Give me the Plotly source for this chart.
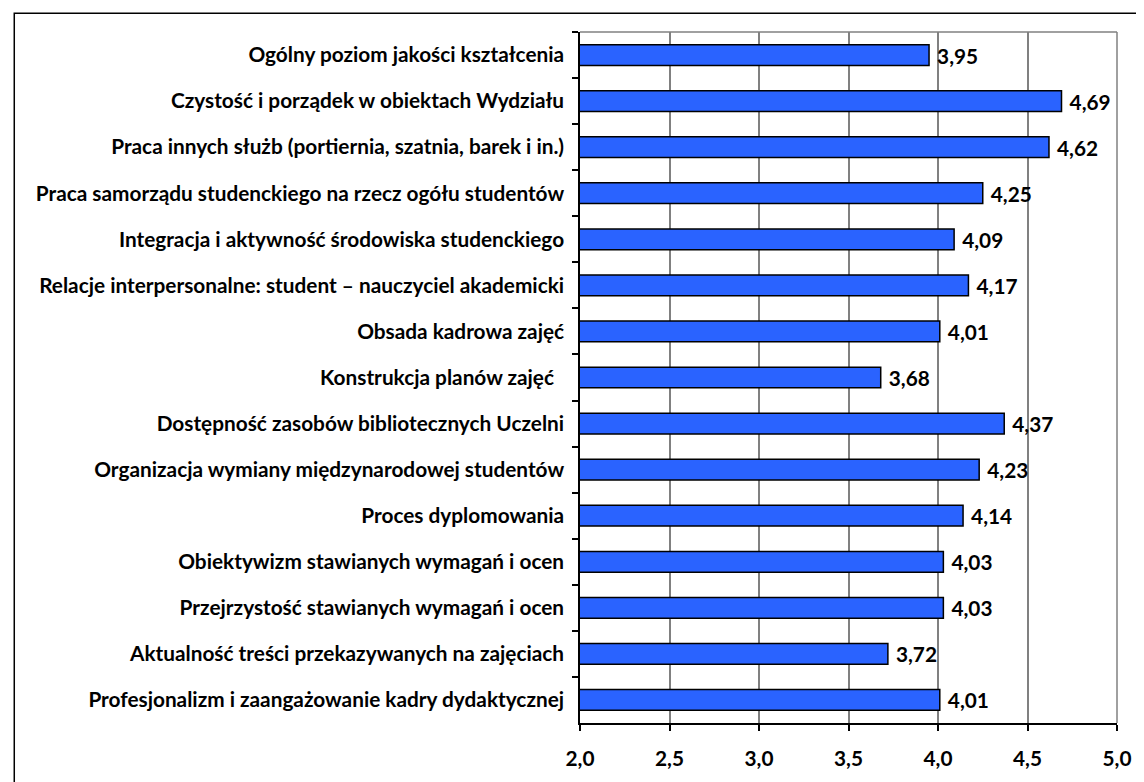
import plotly.graph_objects as go

categories = [
    "Ogólny poziom jakości kształcenia",
    "Czystość i porządek w obiektach Wydziału",
    "Praca innych służb (portiernia, szatnia, barek i in.)",
    "Praca samorządu studenckiego na rzecz ogółu studentów",
    "Integracja i aktywność środowiska studenckiego",
    "Relacje interpersonalne: student – nauczyciel akademicki",
    "Obsada kadrowa zajęć",
    "Konstrukcja planów zajęć  ",
    "Dostępność zasobów bibliotecznych Uczelni",
    "Organizacja wymiany międzynarodowej studentów",
    "Proces dyplomowania",
    "Obiektywizm stawianych wymagań i ocen",
    "Przejrzystość stawianych wymagań i ocen",
    "Aktualność treści przekazywanych na zajęciach",
    "Profesjonalizm i zaangażowanie kadry dydaktycznej",
]
values = [3.95, 4.69, 4.62, 4.25, 4.09, 4.17, 4.01, 3.68, 4.37, 4.23, 4.14, 4.03, 4.03, 3.72, 4.01]
x_ticks = [2.0, 2.5, 3.0, 3.5, 4.0, 4.5, 5.0]

FONT = "Lato"
FS = 20.8

# figure is placed at (8,8) by the page's body margin
W, H = 1136, 774
L, R, T, B = 572, 22, 24, 53
PW = W - L - R
PH = H - T - B

fig = go.Figure(go.Bar(
    y=categories,
    x=values,
    orientation="h",
    marker=dict(color="#2A63FF", line=dict(color="#000000", width=1.5)),
    texttemplate=" %{x:.2f}",
    textposition="outside",
    constraintext="none",
    textfont=dict(family=FONT, size=FS, color="#000000", weight="bold"),
    cliponaxis=False,
    hoverinfo="x+y",
))

fig.update_layout(
    width=W, height=H,
    margin=dict(l=L, r=R, t=T, b=B),
    paper_bgcolor="white",
    plot_bgcolor="white",
    separators=", ",
    showlegend=False,
    bargap=0.55,
    font=dict(family=FONT, size=FS, color="#000000", weight="bold"),
    xaxis=dict(
        range=[2.0, 5.0],
        tickvals=x_ticks,
        tickformat=".1f",
        showgrid=True, gridcolor="#808080", gridwidth=1.5,
        showline=True, linecolor="#000000", linewidth=1.5,
        ticks="outside", ticklen=6, tickcolor="#000000", tickwidth=1.5,
        tickfont=dict(family=FONT, size=FS, color="#000000", weight="bold"),
        zeroline=False,
        ticklabelstandoff=10,
    ),
    yaxis=dict(
        autorange="reversed",
        type="category",
        showline=True, linecolor="#000000", linewidth=1.5,
        ticks="outside", ticklen=6, tickcolor="#000000", tickwidth=1.5,
        tickson="boundaries",
        showgrid=False,
        tickfont=dict(family=FONT, size=FS, color="#000000", weight="bold"),
        ticklabelstandoff=10,
    ),
    shapes=[
        dict(type="line", xref="paper", yref="paper", x0=0, x1=1, y0=1, y1=1,
             line=dict(color="#808080", width=1.5)),
        dict(type="line", xref="paper", yref="paper", x0=1, x1=1, y0=0, y1=1,
             line=dict(color="#808080", width=1.5)),
        dict(type="rect", xref="paper", yref="paper",
             x0=(1 - L) / PW, x1=1.2, y0=-0.2, y1=(H - B - 5) / PH,
             line=dict(color="#000000", width=1.5), layer="below"),
    ],
)

fig.write_html("out.html")
